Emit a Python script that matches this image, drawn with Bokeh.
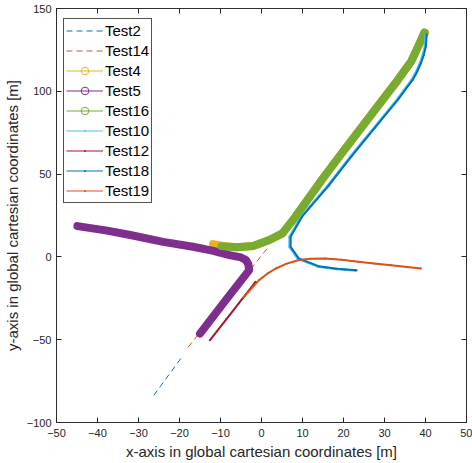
from bokeh.plotting import figure
from bokeh.models import LinearAxis, Range1d, SingleIntervalTicker, Legend, LegendItem
from bokeh.embed import file_html
from bokeh.resources import INLINE

# ---- data ----
x_test2 = [-26.3, -19.1]
y_test2 = [-83.7, -59.4]

x_test14 = [-17.9, 1.4]
y_test14 = [-54.5, 5.1]

x_test4 = [-11.8, -9.0, -6.0, -2.0, 1.9, 5.1, 8.3, 14.7, 19.6, 26.8, 33.3, 36.5, 38.2, 39.9]
y_test4 = [7.7, 6.4, 5.8, 6.6, 10.2, 14.2, 24.3, 46.5, 62.7, 86.0, 107.0, 118.0, 127.0, 135.3]

x_test5 = [-44.9, -38.0, -32.0, -24.0, -16.7, -12.0, -7.8, -5.0, -3.8, -3.2, -3.0, -6.0, -9.0, -12.0, -15.0]
y_test5 = [18.6, 16.0, 13.2, 9.1, 6.1, 3.8, 1.1, -0.3, -1.9, -4.5, -8.0, -17.5, -27.0, -36.7, -46.3]

x_test16 = [-9.8, -6.0, -2.0, 1.9, 5.1, 8.3, 14.7, 19.6, 26.8, 33.3, 36.5, 38.2, 39.7]
y_test16 = [6.5, 5.8, 6.6, 10.2, 14.2, 24.3, 46.5, 62.7, 86.0, 107.0, 118.0, 127.0, 135.5]

x_test10 = [40.0, 39.8, 39.3, 38.6, 37.7, 36.6, 33.0, 27.4, 21.7, 16.1, 9.6, 6.8, 6.8, 8.8, 13.7, 18.4, 23.0]
y_test10 = [134.6, 127.0, 122.0, 117.0, 112.0, 107.0, 95.0, 78.0, 60.8, 43.0, 24.3, 12.2, 6.0, -1.1, -5.9, -7.5, -8.3]

x_test12 = [-12.6, -8.6, -4.6, -1.4]
y_test12 = [-50.4, -37.7, -25.1, -15.0]

x_test18 = [40.3, 40.1, 39.6, 38.9, 38.0, 36.9, 33.3, 27.7, 22.0, 16.4, 9.9, 7.1, 7.1, 9.1, 13.9, 18.5, 23.2]
y_test18 = [134.9, 127.2, 122.0, 117.1, 112.0, 107.0, 95.0, 78.0, 60.8, 43.0, 24.3, 12.2, 6.1, -0.9, -5.6, -7.2, -8.0]

x_test19 = [-4.6, -2.6, -0.6, 1.5, 3.5, 6.0, 9.1, 12.0, 15.5, 19.5, 23.6, 27.5, 31.6, 38.9]
y_test19 = [-25.1, -19.5, -14.0, -10.0, -7.0, -4.2, -1.9, -1.1, -0.9, -1.7, -2.9, -4.0, -5.0, -7.0]

x_ticks_step = 10
y_ticks_step = 50

C_BLUE = "#0072BD"
C_ORANGE = "#D95319"
C_YELLOW = "#EDB120"
C_PURPLE = "#7E2F8E"
C_GREEN = "#77AC30"
C_LBLUE = "#4DBEEE"
C_DRED = "#A2142F"
AX = "#262626"
FONT = "Liberation Sans"

p = figure(width=472, height=463, output_backend="svg", toolbar_location=None,
           x_range=Range1d(-50, 50), y_range=Range1d(-100, 150),
           min_border_left=52, min_border_right=6, min_border_top=8, min_border_bottom=41,
           x_axis_label="x-axis in global cartesian coordinates [m]",
           y_axis_label="y-axis in global cartesian coordinates [m]")
p.grid.visible = False
p.outline_line_color = AX
p.outline_line_width = 1
p.outline_line_alpha = 0.8
p.background_fill_color = "white"
p.border_fill_color = "white"

for ax, step in ((p.xaxis[0], x_ticks_step), (p.yaxis[0], y_ticks_step)):
    ax.ticker = SingleIntervalTicker(interval=step, num_minor_ticks=0)
    ax.major_tick_in = 5
    ax.major_tick_out = 0
    ax.minor_tick_in = 0
    ax.minor_tick_out = 0
    ax.axis_line_color = AX
    ax.axis_line_alpha = 0.8
    ax.major_tick_line_color = AX
    ax.major_label_text_font = FONT
    ax.major_label_text_font_size = "11px"
    ax.major_label_text_color = AX
    ax.axis_label_text_font = FONT
    ax.axis_label_text_font_size = "15px"
    ax.axis_label_text_font_style = "normal"
    ax.axis_label_text_color = AX
p.xaxis[0].major_label_standoff = 6
p.xaxis[0].axis_label_standoff = 3
p.yaxis[0].major_label_standoff = 5
p.yaxis[0].axis_label_standoff = 3

for side, step in (("above", x_ticks_step), ("right", y_ticks_step)):
    a = LinearAxis(ticker=SingleIntervalTicker(interval=step, num_minor_ticks=0),
                   major_tick_in=5, major_tick_out=0, minor_tick_in=0, minor_tick_out=0,
                   major_label_text_font_size="1px", major_label_text_color=None,
                   major_label_standoff=0,
                   axis_line_color=AX, axis_line_alpha=0.8, major_tick_line_color=AX)
    p.add_layout(a, side)

# ---- thin line + marker renderers (also used by the legend), drawn first ----
def base(xs, ys, color, marker):
    rs = [p.line(xs, ys, line_color=color, line_width=1)]
    if marker == "o":
        rs.append(p.scatter(xs, ys, marker="circle", size=6, fill_color=None,
                            line_color=color, line_width=1))
    else:
        rs.append(p.scatter(xs, ys, marker="dot", size=8, fill_color=color,
                            line_color=color, line_width=1.5))
    return rs

r2 = p.line(x_test2, y_test2, line_color=C_BLUE, line_width=1, line_dash="6 4")
r14 = p.line(x_test14, y_test14, line_color=C_ORANGE, line_width=1, line_dash="6 4")
r4 = base(x_test4, y_test4, C_YELLOW, "o")
r5 = base(x_test5, y_test5, C_PURPLE, "o")
r16 = base(x_test16, y_test16, C_GREEN, "o")
r10 = base(x_test10, y_test10, C_LBLUE, ".")
r12 = base(x_test12, y_test12, C_DRED, ".")
r18 = base(x_test18, y_test18, C_BLUE, ".")
r19 = base(x_test19, y_test19, C_ORANGE, ".")

# ---- dense-marker trails, drawn as wide lines ----
p.line(x_test4, y_test4, line_color=C_YELLOW, line_width=8, line_cap="round", line_join="round")
p.line(x_test5, y_test5, line_color=C_PURPLE, line_width=8, line_cap="round", line_join="round")
p.line(x_test16, y_test16, line_color=C_GREEN, line_width=8, line_cap="round", line_join="round")
p.line(x_test10, y_test10, line_color=C_LBLUE, line_width=2, line_join="round")
p.line(x_test12, y_test12, line_color=C_DRED, line_width=2, line_join="round")
p.line(x_test18, y_test18, line_color=C_BLUE, line_width=2, line_join="round")
p.line(x_test19, y_test19, line_color=C_ORANGE, line_width=2, line_join="round")

names = ["Test2", "Test14", "Test4", "Test5", "Test16", "Test10", "Test12", "Test18", "Test19"]
rends = [[r2], [r14], r4, r5, r16, r10, r12, r18, r19]
items = [LegendItem(label=n, renderers=r) for n, r in zip(names, rends)]
legend = Legend(items=items, location=(7, 219), padding=2, spacing=1,
                glyph_height=19, label_height=19, glyph_width=37, label_standoff=2,
                label_text_font=FONT, label_text_font_size="15px", label_text_color="black",
                border_line_color=AX, border_line_width=1, border_line_alpha=0.8,
                background_fill_color="white", background_fill_alpha=1.0, margin=0)
p.add_layout(legend, "center")

open("out.html", "w").write(file_html(p, INLINE))
